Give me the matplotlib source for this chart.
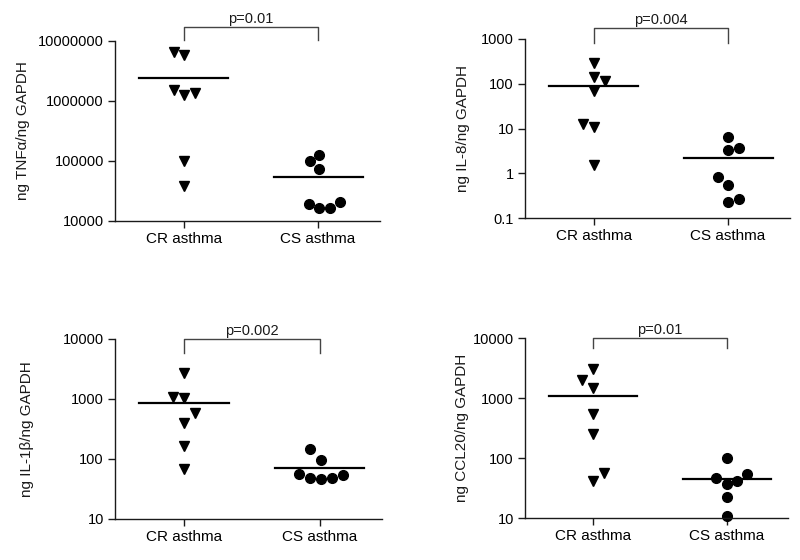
import matplotlib
matplotlib.use("Agg")
import matplotlib.pyplot as plt
from matplotlib.transforms import blended_transform_factory

plt.rcParams['font.family'] = ['Liberation Sans', 'DejaVu Sans']

categories = ["CR asthma", "CS asthma"]

# Panel 1: TNF-alpha
tnf_cr = [6.6e6, 5.8e6, 1.52e6, 1.26e6, 1.38e6, 1.0e5, 3.8e4]
tnf_cs = [1.0e5, 1.26e5, 7.3e4, 1.92e4, 1.67e4, 1.67e4, 2.05e4]
tnf_ticks = [1e4, 1e5, 1e6, 1e7]
tnf_ticklabels = ["10000", "100000", "1000000", "10000000"]

# Panel 2: IL-8
il8_cr = [286, 140, 118, 70, 12.5, 10.7, 1.5]
il8_cs = [6.6, 3.3, 3.6, 0.81, 0.55, 0.23, 0.26]
il8_ticks = [0.1, 1, 10, 100, 1000]
il8_ticklabels = ["0.1", "1", "10", "100", "1000"]

# Panel 3: IL-1beta
il1_cr = [2680, 1094, 1026, 592, 403, 167, 67]
il1_cs = [147, 96, 56, 49, 46, 48, 55]
il1_ticks = [10, 100, 1000, 10000]
il1_ticklabels = ["10", "100", "1000", "10000"]

# Panel 4: CCL20
ccl_cr = [3080, 1970, 1486, 548, 255, 56, 42]
ccl_cs = [100, 47, 55, 37, 41, 22, 10.8]
ccl_ticks = [10, 100, 1000, 10000]
ccl_ticklabels = ["10", "100", "1000", "10000"]

ylabels = ["ng TNF\u03b1/ng GAPDH", "ng IL-8/ng GAPDH",
           "ng IL-1\u03b2/ng GAPDH", "ng CCL20/ng GAPDH"]
pvalues = ["p=0.01", "p=0.004", "p=0.002", "p=0.01"]

# horizontal jitter of the dots (category units)
tnf_jit = ([-0.075, 0.0, -0.075, 0.0, 0.085, 0.0, 0.0],
           [-0.06, 0.01, 0.01, -0.07, 0.01, 0.09, 0.165])
il8_jit = ([0.0, 0.0, 0.086, 0.0, -0.08, 0.0, 0.0],
           [0.0, 0.0, 0.08, -0.075, 0.0, 0.0, 0.08])
il1_jit = ([0.0, -0.08, 0.0, 0.08, 0.0, 0.0, 0.0],
           [-0.07, 0.01, -0.15, -0.07, 0.01, 0.09, 0.17])
ccl_jit = ([0.0, -0.085, 0.0, 0.0, 0.0, 0.08, 0.0],
           [0.0, -0.08, 0.15, 0.0, 0.075, 0.0, 0.0])

W, H = 800, 560
fig = plt.figure(figsize=(8, 5.6), dpi=100)

# pixel boxes: left, right, top, bottom
boxes = [(115, 380, 41, 221), (525, 790, 39, 218),
         (115, 382, 339, 519), (525, 788, 338, 518)]
ylabel_x = [23, 463, 27, 462]
bracket = [(1.078, 1.006), (1.061, 0.978),
           (1.0, 0.92), (1.0, 0.944)]

panels = [
    (tnf_cr, tnf_cs, tnf_ticks, tnf_ticklabels, tnf_jit),
    (il8_cr, il8_cs, il8_ticks, il8_ticklabels, il8_jit),
    (il1_cr, il1_cs, il1_ticks, il1_ticklabels, il1_jit),
    (ccl_cr, ccl_cs, ccl_ticks, ccl_ticklabels, ccl_jit),
]

dark = "#1a1a1a"
for i, (cr, cs, ticks, tlabels, jit) in enumerate(panels):
    l, r, t, b = boxes[i]
    ax = fig.add_axes([l / W, 1 - b / H, (r - l) / W, (b - t) / H])
    ax.set_yscale("log")
    ax.set_ylim(ticks[0], ticks[-1])
    ax.set_xlim(-0.51, 1.46)
    ax.set_yticks(ticks)
    ax.set_yticklabels(tlabels, fontsize=10.5)
    ax.yaxis.set_minor_locator(matplotlib.ticker.NullLocator())
    ax.set_xticks([0, 1])
    ax.set_xticklabels(categories, fontsize=11)
    for s in ["top", "right"]:
        ax.spines[s].set_visible(False)
    for s in ["left", "bottom"]:
        ax.spines[s].set_color(dark)
        ax.spines[s].set_linewidth(1.0)
    ax.tick_params(length=5, width=1.0, color=dark, pad=3)

    xs_cr = [0 + j for j in jit[0]]
    xs_cs = [1 + j for j in jit[1]]
    ax.plot(xs_cr, cr, linestyle="none", marker="v", markersize=7.5,
            color="black", clip_on=False)
    ax.plot(xs_cs, cs, linestyle="none", marker="o", markersize=7,
            color="black", clip_on=False)
    m_cr = sum(cr) / len(cr)
    m_cs = sum(cs) / len(cs)
    ax.plot([-0.33, 0.33], [m_cr, m_cr], color="black", lw=1.6)
    ax.plot([0.67, 1.33], [m_cs, m_cs], color="black", lw=1.6)

    tr = blended_transform_factory(ax.transData, ax.transAxes)
    top, leg = bracket[i]
    ax.plot([0, 0, 1, 1], [leg, top, top, leg], color="#444444", lw=1.0,
            transform=tr, clip_on=False)
    ax.text(0.5, top + 0.005, pvalues[i], transform=tr, ha="center",
            va="bottom", fontsize=10.5, color=dark)

    ymid = 1 - (t + b) / 2 / H
    fig.text(ylabel_x[i] / W, ymid, ylabels[i], rotation=90, ha="center",
             va="center", fontsize=11, color=dark)

fig.savefig("out.png", dpi=100, facecolor="white")
